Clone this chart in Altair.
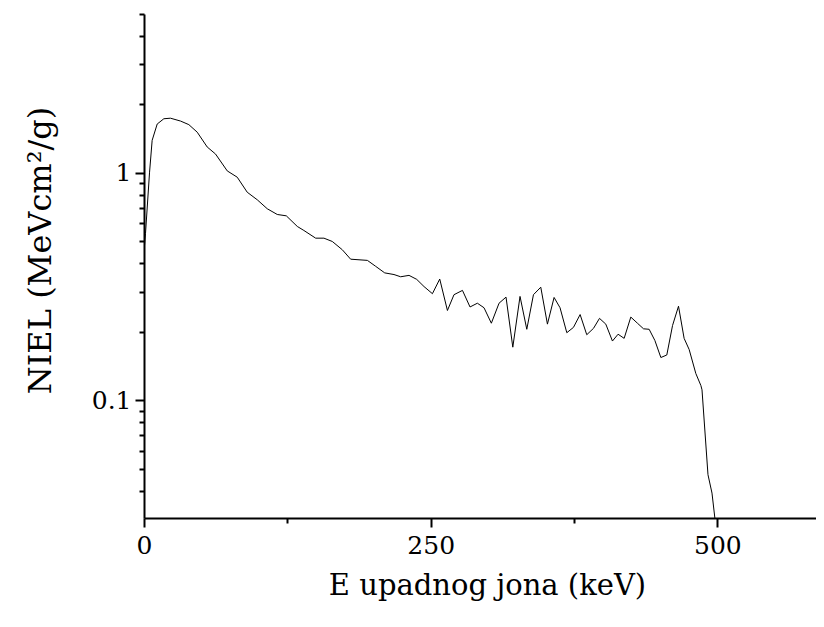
import altair as alt
import pandas as pd

energy = [0, 1.3, 4.8, 7.1, 11.5, 17.3, 23.1, 31.9, 39.1, 46.4, 55.1, 62.4, 72.6, 81.3, 90.0,
          98.8, 107.5, 116.2, 124.1, 133.7, 139.4, 149.7, 156.9, 164.2, 172.9, 180.2, 194.8,
          202.0, 209.9, 218.0, 223.8, 231.1, 237.8, 244.2, 251.5, 257.9, 264.6, 270.3, 277.7,
          284.3, 290.7, 296.5, 302.9, 309.6, 315.7, 321.6, 327.9, 333.8, 339.6, 346.0, 351.8,
          357.6, 362.8, 368.7, 374.5, 380.3, 386.1, 392.0, 397.2, 402.7, 408.5, 413.4, 418.7,
          424.5, 430.3, 435.6, 440.5, 445.5, 450.7, 455.9, 460.9, 466.1, 471.0, 475.4, 481.2,
          485.6, 486.6, 491.8, 495.3, 497.9, 500.0]
niel = [0.45, 0.54, 1.0, 1.39, 1.64, 1.73, 1.74, 1.69, 1.63, 1.51, 1.30, 1.21, 1.02, 0.957, 0.822,
        0.761, 0.695, 0.656, 0.647, 0.581, 0.558, 0.516, 0.516, 0.499, 0.459, 0.417, 0.412,
        0.388, 0.363, 0.357, 0.349, 0.354, 0.340, 0.316, 0.294, 0.341, 0.248, 0.291, 0.304,
        0.257, 0.267, 0.255, 0.218, 0.267, 0.284, 0.171, 0.286, 0.205, 0.291, 0.314, 0.216,
        0.283, 0.255, 0.198, 0.209, 0.238, 0.194, 0.207, 0.229, 0.216, 0.182, 0.195, 0.187,
        0.232, 0.218, 0.206, 0.205, 0.183, 0.154, 0.158, 0.213, 0.259, 0.187, 0.167, 0.131,
        0.116, 0.111, 0.047, 0.039, 0.030, 0.024]

x_ticks = [0, 125, 250, 375, 500]
y_ticks = [0.04, 0.05, 0.06, 0.07, 0.08, 0.09, 0.1, 0.2, 0.3, 0.4, 0.5, 0.6, 0.7, 0.8, 0.9,
           1, 2, 3, 4, 5]

df = pd.DataFrame({"E": energy, "NIEL": niel})

FONT = "DejaVu Serif"

chart = alt.Chart(df).mark_line(color="black", strokeWidth=1, clip=True).encode(
    x=alt.X("E:Q",
            scale=alt.Scale(domain=[0, 586], nice=False, zero=False),
            axis=alt.Axis(values=x_ticks,
                          labelExpr="datum.value % 250 == 0 ? datum.label : ''",
                          tickSize={"condition": {"test": "datum.value % 250 == 0", "value": 9}, "value": 5},
                          title="E upadnog jona (keV)", titlePadding=13, titleFontSize=29,
                          titleX=343,
                          labelPadding=6, grid=False)),
    y=alt.Y("NIEL:Q",
            scale=alt.Scale(type="log", domain=[0.0303, 5], nice=False),
            axis=alt.Axis(values=y_ticks,
                          labelExpr="datum.value == 1 ? '1' : (abs(datum.value - 0.1) < 1e-9 ? '0.1' : '')",
                          tickSize={"condition": {"test": "datum.value == 1 || abs(datum.value - 0.1) < 1e-9", "value": 9}, "value": 5},
                          title="NIEL (MeVcm²/g)", titlePadding=34, titleFontSize=32,
                          titleY=236,
                          labelPadding=4, grid=False)),
).properties(
    width=672, height=504,
    autosize=alt.AutoSizeParams(type="none"),
    padding={"left": 136, "right": 0, "top": 6, "bottom": 93},
).configure_view(stroke=None).configure_axis(
    domainColor="black", domainWidth=2, tickColor="black", tickWidth=2,
    labelFont=FONT, labelFontSize=25, labelColor="black",
    titleFont=FONT, titleFontWeight="normal", titleColor="black",
    labelFlush=False, labelOverlap=False,
)

chart.save("out.html", embed_options={"renderer": "svg", "actions": False})
